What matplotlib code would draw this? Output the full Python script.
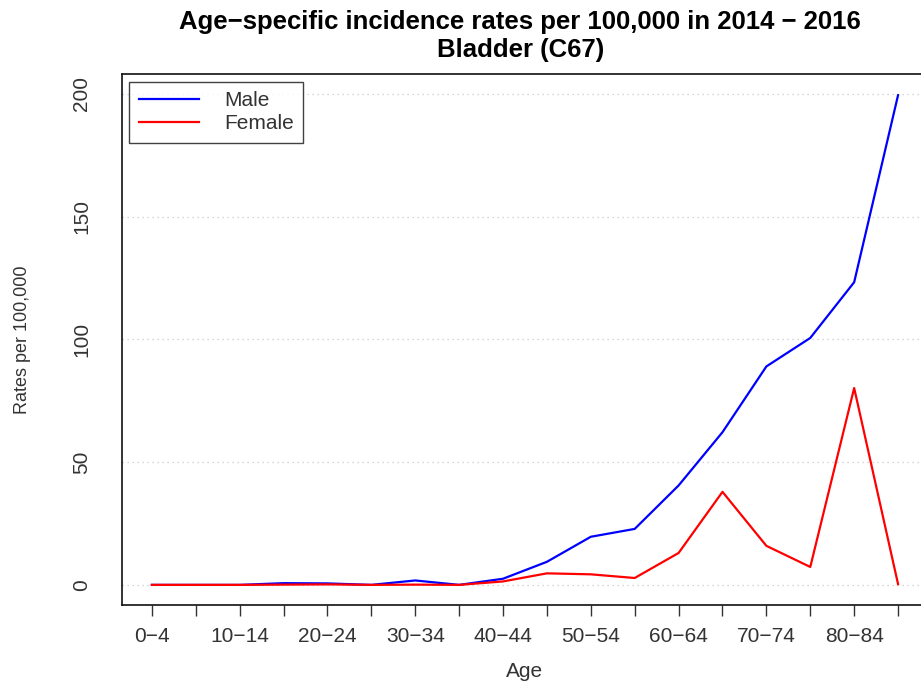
import numpy as np
import matplotlib.pyplot as plt

plt.rcParams['font.family'] = ['Liberation Sans', 'DejaVu Sans']

# age groups and rates per 100,000
age_groups = ['0-4', '5-9', '10-14', '15-19', '20-24', '25-29', '30-34', '35-39',
              '40-44', '45-49', '50-54', '55-59', '60-64', '65-69', '70-74',
              '75-79', '80-84', '85+']
male = [0, 0, 0, 0.7, 0.6, 0, 1.8, 0, 2.5, 9.4, 19.6, 22.8, 40.5, 62.2, 89,
        100.6, 123.3, 199.5]
female = [0, 0, 0, 0.1, 0.2, 0, 0.1, 0, 1.4, 4.7, 4.3, 2.8, 13, 37.9, 15.9,
          7.3, 80.2, 0.3]
y_ticks = [0, 50, 100, 150, 200]

x = np.arange(len(age_groups))

fig = plt.figure(figsize=(9.21, 6.85), dpi=100)
ax = fig.add_axes([0.1325, 0.1175, 0.875, 0.774])

for yt in y_ticks:
    ax.axhline(yt, color='#c8c8c8', linestyle=(0, (1, 3)), linewidth=0.9, zorder=0)

ax.plot(x, male, color='#0000ff', linewidth=1.6, label='Male')
ax.plot(x, female, color='#ff0000', linewidth=1.6, label='Female')

ax.set_xlim(-0.68, 17.68)
ax.set_ylim(-8, 208)

ax.set_xticks(x)
ax.set_xticklabels([lab.replace('-', '\u2212') if i % 2 == 0 else ''
                    for i, lab in enumerate(age_groups)], fontsize=15)
ax.tick_params(axis='x', length=8, width=1, pad=8, colors='#333333')
ax.set_yticks(y_ticks)
ax.set_yticklabels([str(v) for v in y_ticks], rotation=90, va='center', fontsize=15)
ax.tick_params(axis='y', length=0, pad=22, colors='#333333')

for s in ax.spines.values():
    s.set_linewidth(1.2)
    s.set_color('#111111')

ax.set_xlabel('Age', fontsize=15, labelpad=12, color='#333333')
ax.set_ylabel('Rates per 100,000', fontsize=13, labelpad=30, color='#333333')

fig.suptitle('Age\u2212specific incidence rates per 100,000 in 2014 \u2212 2016\nBladder (C67)',
             x=0.565, y=0.985, fontsize=18.5, fontweight='bold', linespacing=1.2)

leg = ax.legend(loc='upper left', fontsize=15, frameon=True, fancybox=False,
                edgecolor='#111111', borderpad=0.45, handlelength=2.9,
                handletextpad=1.2, labelspacing=0.2, borderaxespad=0.35)
leg.get_frame().set_linewidth(1.0)
for t in leg.get_texts():
    t.set_color('#333333')

fig.savefig('out.png', dpi=100)
